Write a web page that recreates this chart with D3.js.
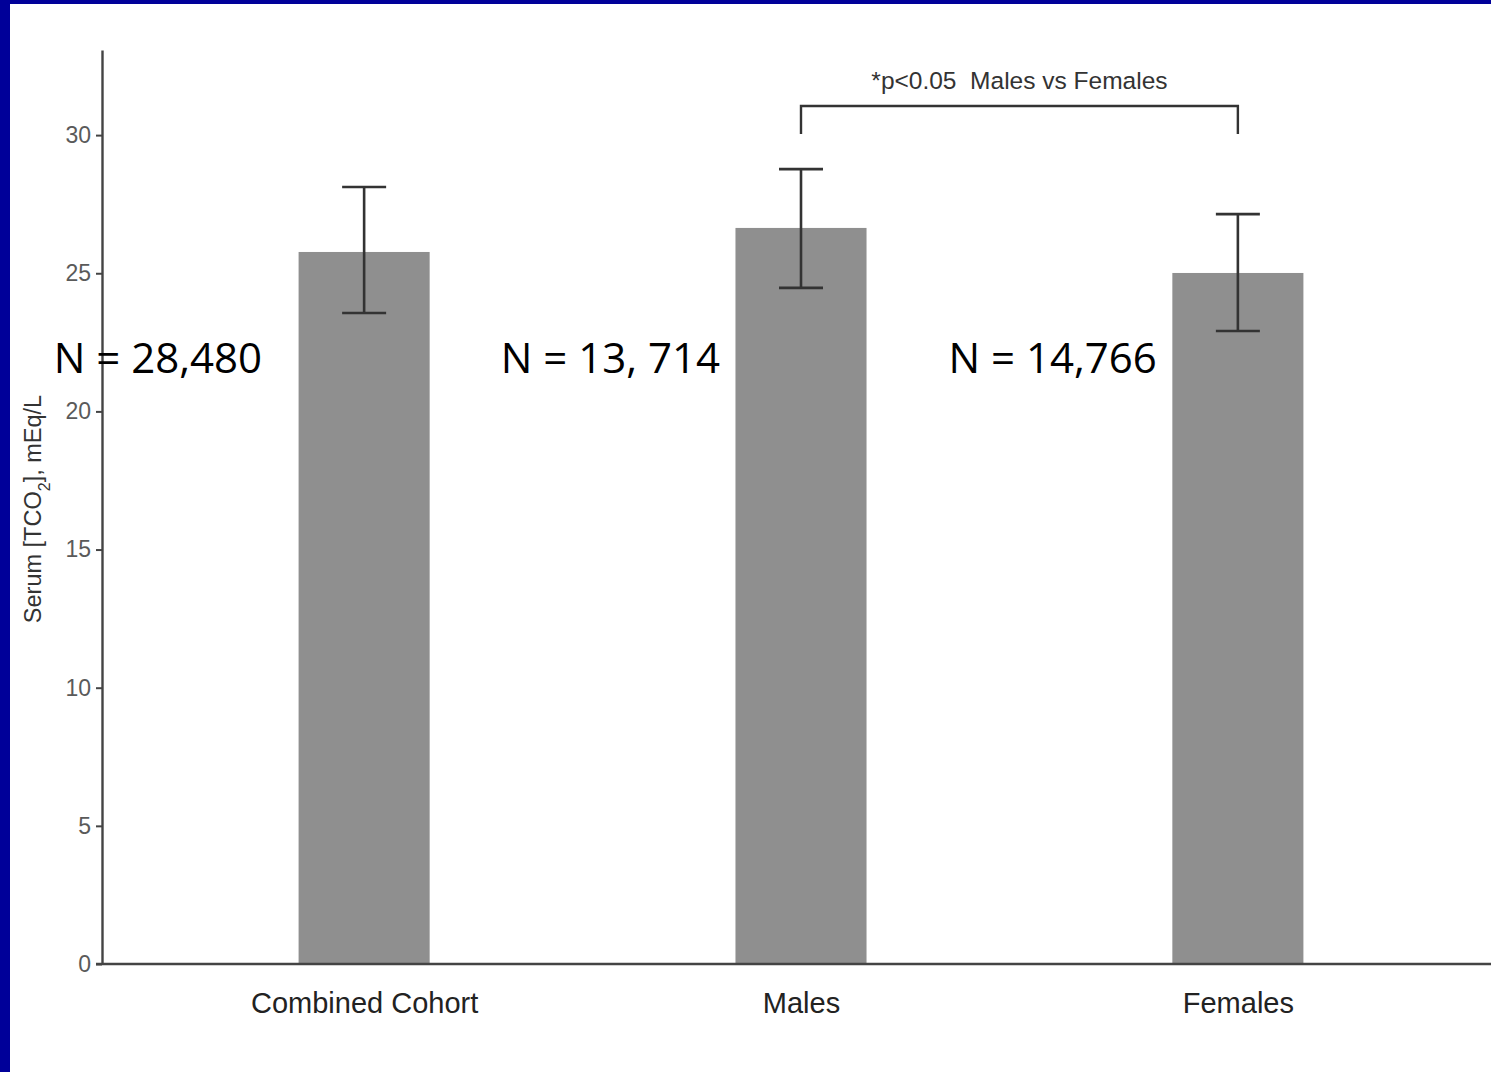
<!DOCTYPE html>
<html>
<head>
<meta charset="utf-8">
<script src="https://cdn.jsdelivr.net/npm/d3@7"></script>
<style>
  html, body { margin: 0; padding: 0; background: #fff; }
  svg { display: block; }
</style>
</head>
<body>
<svg id="chart" width="1491" height="1072"></svg>
<script>
// data
var groups = ["Combined Cohort", "Males", "Females"];
var means = [25.77, 26.64, 25.01];
var upper = [28.12, 28.77, 27.14];
var lower = [23.56, 24.47, 22.91];
var nLabels = ["N = 28,480", "N = 13, 714", "N = 14,766"];
var yTicks = [0, 5, 10, 15, 20, 25, 30];
var sigText = "*p<0.05  Males vs Females";

!(function(){
    "use strict";

    var svg = d3.select("#chart");
    var W = 1491, H = 1072;
    var font = "'Liberation Sans', Arial, sans-serif";

    // slide background + blue frame
    svg.append("rect").attr("width", W).attr("height", H).attr("fill", "#000099");
    svg.append("rect").attr("x", 10).attr("y", 4).attr("width", W - 10).attr("height", H - 4).attr("fill", "#fff");

    var x = d3.scalePoint().domain(groups).range([102, 1500]).padding(0.6);
    var y = d3.scaleLinear().domain([0, 33.08]).range([964, 50]);
    var barW = 0.3 * x.step();

    var g = svg.append("g");

    // bars
    g.selectAll("rect.bar")
        .data(groups)
        .enter()
        .append("rect")
        .attr("class", "bar")
        .attr("x", function(d) { return x(d) - barW / 2; })
        .attr("y", function(d, i) { return y(means[i]); })
        .attr("width", barW)
        .attr("height", function(d, i) { return y(0) - y(means[i]); })
        .attr("fill", "#8f8f8f");

    // error bars
    var eb = g.selectAll("g.err").data(groups).enter().append("g").attr("class", "err")
        .attr("stroke", "#333").attr("stroke-width", 2.6).attr("fill", "none");
    eb.append("line")
        .attr("x1", function(d) { return x(d); }).attr("x2", function(d) { return x(d); })
        .attr("y1", function(d, i) { return y(upper[i]); })
        .attr("y2", function(d, i) { return y(lower[i]); });
    eb.append("line")
        .attr("x1", function(d) { return x(d) - 22; }).attr("x2", function(d) { return x(d) + 22; })
        .attr("y1", function(d, i) { return y(upper[i]); })
        .attr("y2", function(d, i) { return y(upper[i]); });
    eb.append("line")
        .attr("x1", function(d) { return x(d) - 22; }).attr("x2", function(d) { return x(d) + 22; })
        .attr("y1", function(d, i) { return y(lower[i]); })
        .attr("y2", function(d, i) { return y(lower[i]); });

    // y axis
    var yAxis = g.append("g")
        .attr("transform", "translate(102,0)")
        .call(d3.axisLeft(y).tickValues(yTicks).tickSize(6).tickPadding(5).tickSizeOuter(0));
    yAxis.select(".domain").attr("stroke", "#444").attr("stroke-width", 2.4);
    yAxis.selectAll(".tick line").attr("stroke", "#444").attr("stroke-width", 2);
    yAxis.selectAll(".tick text")
        .attr("fill", "#5a5a5a")
        .style("font-family", font)
        .style("font-size", "23px");

    // x axis
    var xAxis = g.append("g")
        .attr("transform", "translate(0,964)")
        .call(d3.axisBottom(x).tickSize(0).tickPadding(0).tickSizeOuter(0));
    xAxis.select(".domain").attr("d", "M96,0H1500").attr("stroke", "#444").attr("stroke-width", 2.4);
    xAxis.selectAll(".tick text")
        .attr("y", 49)
        .attr("dy", null)
        .attr("fill", "#222")
        .style("font-family", font)
        .style("font-size", "29px");

    // y title
    var yt = svg.append("text")
        .attr("transform", "translate(41,509) rotate(-90)")
        .attr("text-anchor", "middle")
        .attr("fill", "#333")
        .style("font-family", font)
        .style("font-size", "23.5px");
    yt.append("tspan").text("Serum [TCO");
    yt.append("tspan").attr("baseline-shift", "sub").style("font-size", "16px").text("2");
    yt.append("tspan").text("], mEq/L");

    // significance bracket
    var bx1 = x("Males"), bx2 = x("Females");
    svg.append("path")
        .attr("d", "M" + bx1 + ",134V106H" + bx2 + "V134")
        .attr("fill", "none").attr("stroke", "#333").attr("stroke-width", 2.4);
    svg.append("text")
        .attr("x", (bx1 + bx2) / 2).attr("y", 89)
        .attr("text-anchor", "middle")
        .attr("fill", "#333")
        .style("font-family", font)
        .style("font-size", "24.5px")
        .style("white-space", "pre")
        .text(sigText);

    // N labels (slide text boxes, right edges sit just left of each bar)
    var nOffset = [102, 81, 81];
    svg.selectAll("text.nlab")
        .data(nLabels)
        .enter()
        .append("text")
        .attr("class", "nlab")
        .attr("x", function(d, i) { return x(groups[i]) - nOffset[i]; })
        .attr("y", 373)
        .attr("text-anchor", "end")
        .attr("fill", "#000")
        .style("font-family", "'Open Sans', sans-serif")
        .style("font-size", "42px")
        .text(function(d) { return d; });
}());
</script>
</body>
</html>
